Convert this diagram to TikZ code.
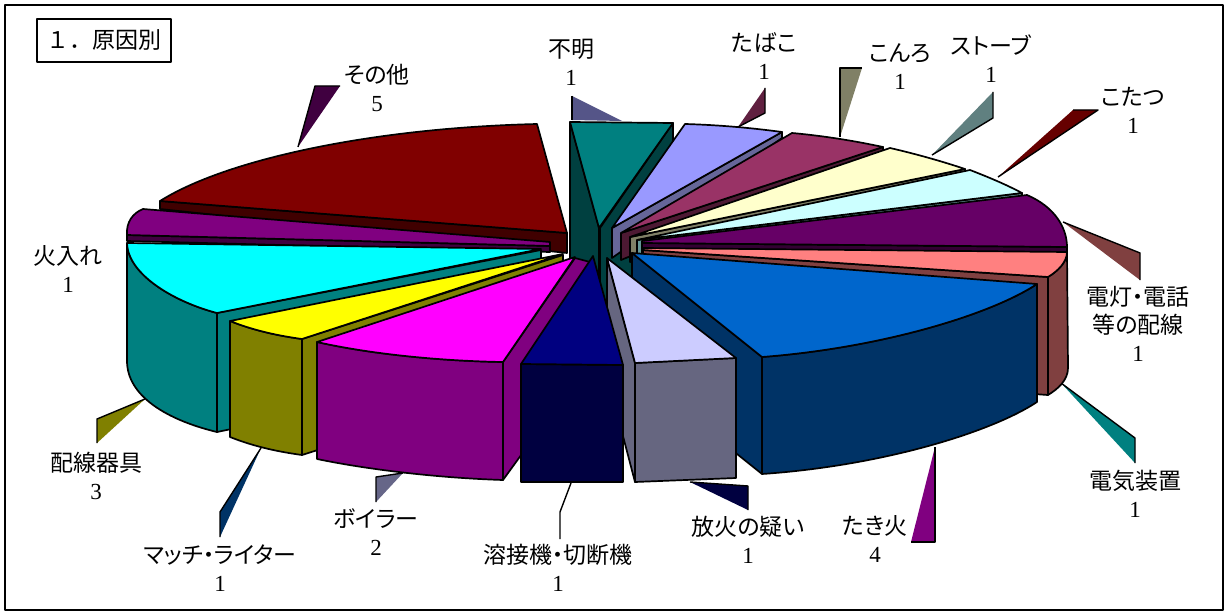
\documentclass[tikz,border=0pt]{standalone}
\usepackage{fontspec}
\setmainfont{Liberation Serif}
\newfontfamily\cjk[RawFeature=+palt]{Noto Sans CJK JP}
\newfontfamily\cjkfull{Noto Sans CJK JP}
\newcommand\JPtxt[1]{{\cjk #1}}
\definecolor{cOther}{HTML}{800000}\definecolor{cOtherS}{HTML}{400000}
\definecolor{cHiire}{HTML}{800080}\definecolor{cHiireS}{HTML}{400040}
\definecolor{cCyan}{HTML}{00FFFF}\definecolor{cCyanS}{HTML}{008080}
\definecolor{cYel}{HTML}{FFFF00}\definecolor{cYelS}{HTML}{808000}
\definecolor{cMag}{HTML}{FF00FF}\definecolor{cMagS}{HTML}{800080}
\definecolor{cNavy}{HTML}{000080}\definecolor{cNavyS}{HTML}{000040}
\definecolor{cLav}{HTML}{CCCCFF}\definecolor{cLavS}{HTML}{666680}
\definecolor{cBlue}{HTML}{0066CC}\definecolor{cBlueS}{HTML}{003366}
\definecolor{cSal}{HTML}{FF8080}\definecolor{cSalS}{HTML}{804040}
\definecolor{cPur}{HTML}{660066}\definecolor{cPurS}{HTML}{330033}
\definecolor{cLCy}{HTML}{CCFFFF}\definecolor{cLCyS}{HTML}{669999}
\definecolor{cLYe}{HTML}{FFFFCC}\definecolor{cLYeS}{HTML}{808066}
\definecolor{cPlum}{HTML}{993366}\definecolor{cPlumS}{HTML}{4D1933}
\definecolor{cPeri}{HTML}{9999FF}\definecolor{cPeriS}{HTML}{666699}
\definecolor{cTeal}{HTML}{008080}\definecolor{cTealS}{HTML}{004040}
\definecolor{lOther}{HTML}{400040}\definecolor{lFumei}{HTML}{555588}
\definecolor{lTabako}{HTML}{602040}\definecolor{lKonro}{HTML}{808066}
\definecolor{lStove}{HTML}{608080}\definecolor{lKotatsu}{HTML}{660000}
\definecolor{lDento}{HTML}{804040}\definecolor{lDenki}{HTML}{008080}
\definecolor{lTakibi}{HTML}{800080}\definecolor{lHoka}{HTML}{000040}
\definecolor{lBoiler}{HTML}{666688}\definecolor{lMatch}{HTML}{003366}
\definecolor{lHaisen}{HTML}{808000}
\begin{document}
\begin{tikzpicture}[x=1pt,y=-1pt,line join=round,
  slc/.style={draw=black,line width=1.7pt},
  ldrline/.style={draw=black,line width=1.4pt},
  lbl/.style={align=center,inner sep=0pt,font=\fontsize{23}{28}\selectfont}]
\useasboundingbox (0,0) rectangle (1229,615);
\fill[white] (0,0) rectangle (1229,615);
\draw[line width=2.5pt] (5,5) rectangle (1223,610);

% title
\node[draw,line width=1.8pt,minimum width=134pt,minimum height=43pt,inner sep=0pt,
  font=\fontsize{23}{28}\selectfont] (title) at (104,40.5) {{\cjkfull １．原因別}};

% ---------- leaders ----------
\fill[lOther] (298,147) -- (315,86) -- (340,86) -- cycle;
\draw[ldrline] (298,147) -- (315,86) -- (340,86);
\fill[lFumei] (622,121) -- (572,96) -- (572,120) -- cycle;
\draw[ldrline] (572,96) -- (572,120);
\fill[lTabako] (738,127) -- (765,113) -- (765,88) -- cycle;
\draw[ldrline] (738,127) -- (765,113) -- (765,88);
\fill[lKonro] (840,137) -- (840,68) -- (862,68) -- cycle;
\draw[ldrline] (840,137) -- (840,68) -- (862,68);
\fill[lStove] (932,155) -- (993,118) -- (993,92) -- cycle;
\draw[ldrline] (932,155) -- (993,118) -- (993,92);
\fill[lKotatsu] (998,177) -- (1098,110) -- (1073,110) -- cycle;
\draw[ldrline] (998,177) -- (1098,110) -- (1073,110);
\fill[lDento] (1063,222) -- (1140,253) -- (1140,280) -- cycle;
\draw[ldrline] (1063,222) -- (1140,253) -- (1140,280);
\fill[lDenki] (1061,383) -- (1135,438) -- (1135,463) -- cycle;
\draw[ldrline] (1061,383) -- (1135,438) -- (1135,463);
\fill[lTakibi] (935,447) -- (935,542) -- (911,542) -- cycle;
\draw[ldrline] (935,447) -- (935,542) -- (911,542);
\fill[lHoka] (690,482) -- (748,486) -- (748,510) -- cycle;
\draw[ldrline] (690,482) -- (748,486) -- (748,510);
\draw[ldrline] (571,483) -- (560,512) -- (560,539);
\fill[lBoiler] (403,473) -- (376,477) -- (376,502) -- cycle;
\draw[ldrline] (403,473) -- (376,477) -- (376,502);
\fill[lMatch] (261,448) -- (220,512) -- (220,537) -- cycle;
\draw[ldrline] (261,448) -- (220,512) -- (220,537);
\fill[lHaisen] (145,399) -- (97,419) -- (97,443) -- cycle;
\draw[ldrline] (145,399) -- (97,419) -- (97,443);

% ---------- slices (back to front) ----------
% その他
\filldraw[slc,fill=cOtherS] (160,201) -- (567,233) -- (567,253) -- (160,209) -- cycle;
\filldraw[slc,fill=cOther] (160,201) .. controls (225,160) and (370,128) .. (537,124) -- (567,233) -- cycle;
% 火入れ
\filldraw[slc,fill=cHiireS] (127,235) -- (550,246) -- (550,252) -- (127,241) -- cycle;
\filldraw[slc,fill=cHiire] (143,209) -- (550,242) -- (550,246) -- (127,235) .. controls (126,222) and (133,213) .. (143,209) -- cycle;
% 不明
\filldraw[slc,fill=cTealS] (673,123) -- (600,228) -- (600,345) -- (673,240) -- cycle;
\filldraw[slc,fill=cTealS] (570,122) -- (599,228) -- (599,300) -- (570,300) -- cycle;
\filldraw[slc,fill=cTeal] (570,122) -- (673,123) -- (599,228) -- cycle;
% たばこ
\filldraw[slc,fill=cPeriS] (782,132) -- (612,228) -- (612,258) -- (782,138) -- cycle;
\filldraw[slc,fill=cPeri] (685,124) .. controls (720,125) and (752,128) .. (782,132) -- (612,228) -- cycle;
% こんろ
\filldraw[slc,fill=cPlumS] (883,147) -- (621,233) -- (621,260) -- (883,153) -- cycle;
\filldraw[slc,fill=cPlum] (792,133) .. controls (825,136) and (855,141) .. (883,147) -- (621,233) -- cycle;
% ストーブ
\filldraw[slc,fill=cLYeS] (965,169) -- (630,237) -- (630,262) -- (965,175) -- cycle;
\filldraw[slc,fill=cLYe] (890,148) .. controls (916,154) and (941,161) .. (965,169) -- (630,237) -- cycle;
% こたつ
\filldraw[slc,fill=cLCyS] (1022,193) -- (637,240) -- (637,264) -- (1022,199) -- cycle;
\filldraw[slc,fill=cLCy] (970,170) .. controls (988,177) and (1005,184) .. (1022,193) -- (637,240) -- cycle;
% purple
\filldraw[slc,fill=cPurS] (1067,247) -- (642,243) -- (642,266) -- (1067,252) -- cycle;
\filldraw[slc,fill=cPur] (642,241) -- (1027,195) .. controls (1055,207) and (1067,228) .. (1067,247) -- (642,243) -- cycle;
% salmon
\filldraw[slc,fill=cSalS] (1067,252) .. controls (1067,262) and (1058,271) .. (1048,277) -- (1048,395) .. controls (1058,389) and (1068,380) .. (1068,368) -- cycle;
\filldraw[slc,fill=cSalS] (643,250) -- (1048,277) -- (1048,395) -- (643,367) -- cycle;
\filldraw[slc,fill=cSal] (643,248) -- (1067,252) .. controls (1067,262) and (1058,271) .. (1048,277) -- (643,250) -- cycle;
% たき火
\filldraw[slc,fill=cBlueS] (632,253) -- (762,357) -- (762,474) -- (632,370) -- cycle;
\filldraw[slc,fill=cBlueS] (762,357) .. controls (880,348) and (990,315) .. (1037,284) -- (1037,402) .. controls (990,433) and (880,466) .. (762,474) -- cycle;
\filldraw[slc,fill=cBlue] (632,253) -- (1037,284) .. controls (990,315) and (880,348) .. (762,357) -- cycle;
% 配線器具
\filldraw[slc,fill=cCyanS] (217,313) -- (541,250) -- (541,365) -- (217,432) -- cycle;
\filldraw[slc,fill=cCyanS] (127,243) .. controls (128,275) and (175,302) .. (217,313) -- (217,432) .. controls (175,422) and (128,400) .. (127,362) -- cycle;
\filldraw[slc,fill=cCyan] (127,243) -- (541,249) -- (217,313) .. controls (175,302) and (128,275) .. (127,243) -- cycle;
% マッチ・ライター
\filldraw[slc,fill=cYelS] (302,339) -- (563,255) -- (563,372) -- (302,455) -- cycle;
\filldraw[slc,fill=cYelS] (230,321) .. controls (255,331) and (280,336) .. (302,339) -- (302,455) .. controls (280,452) and (255,447) .. (230,437) -- cycle;
\filldraw[slc,fill=cYel] (230,321) -- (563,254) -- (302,339) .. controls (280,336) and (255,331) .. (230,321) -- cycle;
% ボイラー
\filldraw[slc,fill=cMagS] (503,362) -- (575,258) -- (590,262) -- (590,360) -- (503,480) -- cycle;
\filldraw[slc,fill=cMagS] (317,342) .. controls (370,354) and (440,361) .. (503,362) -- (503,480) .. controls (440,478) and (370,470) .. (317,459) -- cycle;
\filldraw[slc,fill=cMag] (317,342) -- (575,257) -- (503,362) .. controls (440,361) and (370,354) .. (317,342) -- cycle;
% 放火の疑い
\filldraw[slc,fill=cLavS] (607,258) -- (635,363) -- (635,482) -- (607,375) -- cycle;
\filldraw[slc,fill=cLavS] (635,363) -- (736,358) -- (736,478) -- (635,482) -- cycle;
\filldraw[slc,fill=cLav] (607,258) -- (736,358) -- (635,363) -- cycle;
% 溶接機・切断機
\filldraw[slc,fill=cNavyS] (521,364) -- (623,365) -- (623,482) -- (521,482) -- cycle;
\filldraw[slc,fill=cNavy] (593,256) -- (623,365) -- (521,364) -- cycle;

% ---------- labels ----------
\node[lbl] (tOther)   at (377,88)  {\JPtxt{その他}\\5};
\node[lbl] (tFumei)   at (571,62)  {\JPtxt{不明}\\1};
\node[lbl] (tTabako)  at (764,56)  {\JPtxt{たばこ}\\1};
\node[lbl] (tKonro)   at (900,67)  {\JPtxt{こんろ}\\1};
\node[lbl] (tStove)   at (991,59)  {\JPtxt{ストーブ}\\1};
\node[lbl] (tKotatsu) at (1133,110) {\JPtxt{こたつ}\\1};
\node[lbl] (tDento)   at (1138,324) {\JPtxt{電灯・電話}\\\JPtxt{等の配線}\\1};
\node[lbl] (tDenki)   at (1135,494) {\JPtxt{電気装置}\\1};
\node[lbl] (tTakibi)  at (875,539) {\JPtxt{たき火}\\4};
\node[lbl] (tHoka)    at (748,540) {\JPtxt{放火の疑い}\\1};
\node[lbl] (tYosetsu) at (558,568) {\JPtxt{溶接機・切断機}\\1};
\node[lbl] (tBoiler)  at (376,532) {\JPtxt{ボイラー}\\2};
\node[lbl] (tMatch)   at (220,568) {\JPtxt{マッチ・ライター}\\1};
\node[lbl] (tHaisen)  at (96,476)  {\JPtxt{配線器具}\\3};
\node[lbl] (tHiire)   at (68,269)  {\JPtxt{火入れ}\\1};
\end{tikzpicture}
\end{document}
